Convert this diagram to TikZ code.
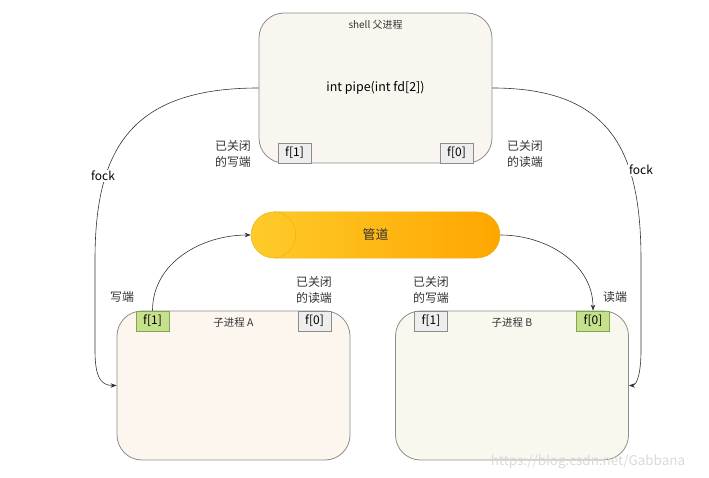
\documentclass[tikz,border=0pt]{standalone}
\usepackage{fontspec}
\setmainfont{Noto Sans CJK SC}
\usetikzlibrary{positioning,arrows.meta}

\definecolor{boxline}{HTML}{8C8C8C}
\definecolor{parentfill}{HTML}{F8F6EE}
\definecolor{childafill}{HTML}{FDF6EF}
\definecolor{childbfill}{HTML}{F9F8EF}
\definecolor{fdgrayfill}{HTML}{EEEEEE}
\definecolor{fdgreenfill}{HTML}{C6E08C}
\definecolor{fdgreenline}{HTML}{7FA650}
\definecolor{pipeleft}{HTML}{FECB2A}
\definecolor{piperight}{HTML}{FFA600}
\definecolor{pipeline}{HTML}{E8B418}
\definecolor{inkcol}{HTML}{333333}

\tikzset{
  procbox/.style={draw=boxline, line width=0.8bp, rounded corners=25bp, inner sep=0pt,
    minimum width=233bp, minimum height=149bp},
  fdbox/.style={draw=boxline, line width=0.8bp, fill=fdgrayfill, inner sep=0pt,
    minimum width=33bp, minimum height=20bp, font=\fontsize{12}{12}\selectfont},
  fdopen/.style={fdbox, draw=fdgreenline, fill=fdgreenfill},
  endlabel/.style={align=center, text=inkcol, font=\fontsize{12}{16}\selectfont},
  link/.style={->, draw=inkcol, line width=0.6bp},
  forklabel/.style={fill=white, inner sep=1.5bp, text=black, font=\fontsize{12}{12}\selectfont}
}

\begin{document}
\begin{tikzpicture}[x=1bp, y=-1bp, >={Stealth[length=6bp,width=4.5bp]}]
  \useasboundingbox (0,0) rectangle (709,478);

  % 父进程
  \node[procbox, fill=parentfill, minimum height=150bp] (parent) at (375.5,88) {};
  \node[below=4bp of parent.north, font=\fontsize{10}{10}\selectfont, text=inkcol] (parenttitle) {shell 父进程};
  \node[font=\fontsize{12.5}{13}\selectfont, text=black] (pipecall) at (parent.center) {int pipe(int fd[2])};
  \node[fdbox, anchor=south west] (pf1) at ([xshift=19bp]parent.south west) {f[1]};
  \node[fdbox, anchor=south east] (pf0) at ([xshift=-19bp]parent.south east) {f[0]};
  \node[endlabel] (pclosedw) at (233,154) {已关闭\\的写端};
  \node[endlabel] (pclosedr) at (525,154) {已关闭\\的读端};

  % 管道
  \node[draw=pipeline, line width=0.5bp, rounded corners=23bp, left color=pipeleft, right color=piperight,
    minimum width=249bp, minimum height=46bp, inner sep=0pt,
    font=\fontsize{13}{13}\selectfont, text=inkcol] (pipe) at (375.5,235) {管道};
  \draw[pipeline, line width=0.5bp] ([xshift=23bp]pipe.north west) arc (90:-90:22bp and 23bp);

  % 子进程 A
  \node[procbox, fill=childafill] (childa) at (233.5,385.5) {};
  \node[below=4bp of childa.north, font=\fontsize{10.5}{11}\selectfont, text=inkcol] (childatitle) {子进程 A};
  \node[fdopen, anchor=north west] (af1) at ([xshift=19bp]childa.north west) {f[1]};
  \node[fdbox, anchor=north east] (af0) at ([xshift=-19bp]childa.north east) {f[0]};
  \node[endlabel] (awrite) at (122,297) {写端};
  \node[endlabel] (aclosedr) at (314,290) {已关闭\\的读端};

  % 子进程 B
  \node[procbox, fill=childbfill] (childb) at (512,385.5) {};
  \node[below=4bp of childb.north, font=\fontsize{10.5}{11}\selectfont, text=inkcol] (childbtitle) {子进程 B};
  \node[fdbox, anchor=north west] (bf1) at ([xshift=19bp]childb.north west) {f[1]};
  \node[fdopen, anchor=north east] (bf0) at ([xshift=-19bp]childb.north east) {f[0]};
  \node[endlabel] (bclosedw) at (431,290) {已关闭\\的写端};
  \node[endlabel] (bread) at (615,297) {读端};

  % fock
  \draw[link] (parent.west) .. controls (130,88) and (95,150) .. (95,260)
    -- (95,350) .. controls (95,376) and (100,385.5) .. (childa.west);
  \draw[link] (parent.east) .. controls (610,88) and (641,150) .. (641,260)
    -- (641,350) .. controls (641,376) and (636,385.5) .. (childb.east);
  \node[forklabel] (forka) at (103,176) {fock};
  \node[forklabel] (forkb) at (641,170) {fock};

  % 读写
  \draw[link] (af1.north) to[out=90, in=180] (pipe.west);
  \draw[link] (pipe.east) to[out=0, in=90] (bf0.north);

  \node[text=black!15, font=\fontsize{13.5}{14}\selectfont] (mark) at (588,462) {https://blog.csdn.net/Gabbana};
\end{tikzpicture}
\end{document}
